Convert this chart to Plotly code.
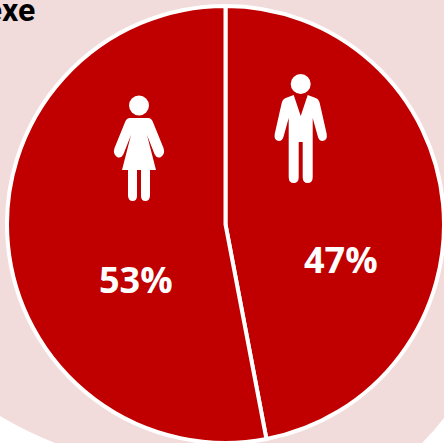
import plotly.graph_objects as go

# Gender split
labels = ["Hommes", "Femmes"]
values = [47, 53]
title_text = "Sexe"

W, H = 444, 443
RED = "#c00000"
PINK = "#f2dcdb"

# Pie geometry in pixels
cx, cy, r = 225.5, 224.4, 218.5


def woman_path(x, y):
    """Standing woman pictogram, offsets measured from the head centre (x, y)."""
    def p(a, b):
        return f"{x + a},{y + b}"
    return (
        f"M{p(-9, 13)} L{p(9, 13)} Q{p(12, 13)} {p(13.5, 16)} L{p(24.5, 43)} "
        f"Q{p(26.5, 49)} {p(22, 52)} Q{p(18, 54)} {p(15.5, 49)} L{p(8, 30)} "
        f"L{p(17, 65)} L{p(11, 65)} L{p(11, 91)} Q{p(10.5, 96)} {p(6.5, 96)} "
        f"Q{p(2, 96)} {p(2, 91)} L{p(2, 65)} L{p(-2, 65)} L{p(-2, 91)} "
        f"Q{p(-2, 96)} {p(-6.5, 96)} Q{p(-10.5, 96)} {p(-11, 91)} L{p(-11, 65)} "
        f"L{p(-17, 65)} L{p(-8, 30)} L{p(-15.5, 49)} Q{p(-18, 54)} {p(-22, 52)} "
        f"Q{p(-26.5, 49)} {p(-24.5, 43)} L{p(-13.5, 16)} Q{p(-12, 13)} {p(-9, 13)} Z"
    )


def man_path(x, y):
    """Standing man pictogram, offsets measured from the head centre (x, y)."""
    def p(a, b):
        return f"{x + a},{y + b}"
    return (
        f"M{p(-7, 11)} L{p(0, 32)} L{p(7, 11)} L{p(15, 14)} Q{p(18, 15)} {p(19, 19)} "
        f"L{p(26, 50)} Q{p(27, 56)} {p(22, 57)} Q{p(18, 57)} {p(17, 52)} L{p(12, 34)} "
        f"L{p(12, 93)} Q{p(12, 99)} {p(7, 99)} Q{p(2, 99)} {p(2, 93)} L{p(2, 58)} "
        f"L{p(-2, 58)} L{p(-2, 93)} Q{p(-2, 99)} {p(-7, 99)} Q{p(-12, 99)} {p(-12, 93)} "
        f"L{p(-12, 34)} L{p(-17, 52)} Q{p(-18, 57)} {p(-22, 57)} Q{p(-27, 56)} {p(-26, 50)} "
        f"L{p(-19, 19)} Q{p(-18, 15)} {p(-15, 14)} Z"
    )


def head(x, y, rad):
    return dict(type="circle", xref="x", yref="y", x0=x - rad, x1=x + rad,
                y0=y - rad, y1=y + rad, fillcolor="white", line_width=0, layer="above")


fig = go.Figure()

fig.add_trace(go.Pie(
    labels=labels,
    values=values,
    sort=False,
    direction="clockwise",
    rotation=0,
    textinfo="none",
    hoverinfo="label+percent",
    showlegend=False,
    marker=dict(colors=[RED, RED], line=dict(color="white", width=4)),
    domain=dict(x=[(cx - r) / W, (cx + r) / W], y=[1 - (cy + r) / H, 1 - (cy - r) / H]),
))

shapes = [
    # Pale backdrop with curved lower corners
    dict(type="path", xref="x", yref="y",
         path=f"M0,0 L{W},0 L{W},418 Q434,431 422,{H} L55,{H} Q27,432 0,416 Z",
         fillcolor=PINK, line_width=0, layer="below"),
    head(139, 105.5, 10),
    dict(type="path", xref="x", yref="y", path=woman_path(139, 105),
         fillcolor="white", line_width=0, layer="above"),
    head(300.7, 84, 10),
    dict(type="path", xref="x", yref="y", path=man_path(300.7, 84),
         fillcolor="white", line_width=0, layer="above"),
]

annotations = [
    dict(x=341, y=259, xref="x", yref="y", text=f"{values[0]}%", showarrow=False,
         font=dict(family="Open Sans", size=36, color="white", weight="bold")),
    dict(x=135.5, y=279, xref="x", yref="y", text=f"{values[1]}%", showarrow=False,
         font=dict(family="Open Sans", size=36, color="white", weight="bold")),
    dict(x=37, y=10, xref="x", yref="y", xanchor="right", text=title_text, showarrow=False,
         font=dict(family="Roboto", size=32, color="black", weight="bold")),
]

fig.update_layout(
    width=W, height=H,
    margin=dict(l=0, r=0, t=0, b=0),
    paper_bgcolor="white",
    plot_bgcolor="rgba(0,0,0,0)",
    xaxis=dict(range=[0, W], visible=False, fixedrange=True),
    yaxis=dict(range=[H, 0], visible=False, fixedrange=True),
    shapes=shapes,
    annotations=annotations,
)

fig.write_html("out.html", config=dict(displayModeBar=False))
